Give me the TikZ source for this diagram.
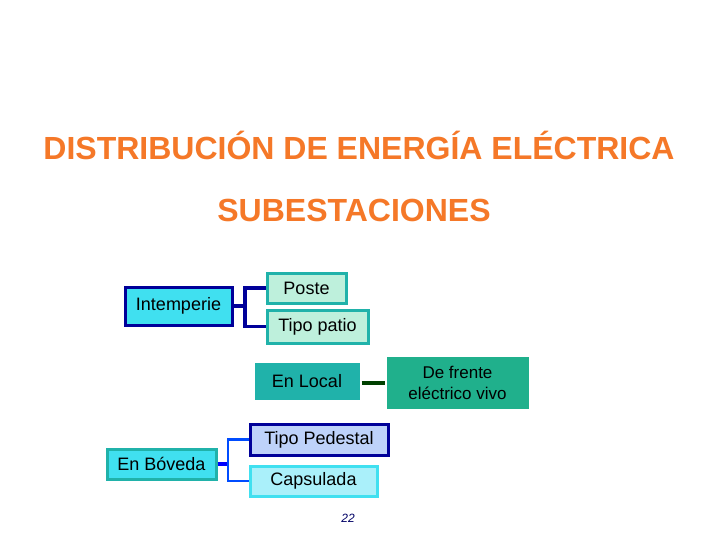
\documentclass[tikz,border=0pt]{standalone}
\usepackage{fontspec}
\setmainfont{Liberation Sans}
\definecolor{cy}{RGB}{64,224,240}
\definecolor{tl}{RGB}{32,178,170}
\definecolor{gt}{RGB}{32,176,140}
\definecolor{lg}{RGB}{190,240,220}
\definecolor{lb}{RGB}{190,210,250}
\definecolor{lc}{RGB}{170,240,250}
\definecolor{ttlc}{RGB}{245,120,40}
\begin{document}
\begin{tikzpicture}[x=1pt,y=-1pt,
 bx/.style={draw=#1,line width=3pt,inner sep=2pt,font=\fontsize{18}{21}\selectfont,align=center},
 ttl/.style={text=ttlc,font=\bfseries\fontsize{32}{36}\selectfont},
 br/.style={line width=3.5pt,draw=#1}]
\useasboundingbox (0,0) rectangle (720,540);
\fill[white] (0,0) rectangle (720,540);
\node[ttl] (t1) at (359,145) {DISTRIBUCIÓN DE ENERGÍA ELÉCTRICA};
\node[ttl] (t2) at (354,210) {SUBESTACIONES};
\node[bx=blue!60!black,fill=cy,minimum width=107pt,minimum height=38pt] (int) at (178.5,306) {Intemperie};
\node[bx=tl,fill=lg,minimum width=79pt,minimum height=30pt] (pos) at (306.5,288) {Poste};
\node[bx=tl,fill=lg,minimum width=101pt,minimum height=33pt] (pat) at (317.5,326.5) {Tipo patio};
\node[bx=tl,fill=tl,minimum width=102pt,minimum height=34pt] (loc) at (307,381) {En Local};
\node[bx=gt,fill=gt,minimum width=139pt,minimum height=49pt,font=\fontsize{17}{21}\selectfont] (fre) at (457.5,382.5) {De frente\\eléctrico vivo};
\node[bx=blue!60!black,fill=lb,minimum width=138pt,minimum height=31pt] (ped) at (319,439.5) {Tipo Pedestal};
\node[bx=cy,fill=lc,minimum width=127pt,minimum height=30pt] (cap) at (313.5,481) {Capsulada};
\node[bx=tl,fill=cy,minimum width=109pt,minimum height=30pt] (bov) at (161.5,464) {En Bóveda};
\coordinate (j1) at (245,306);
\draw[br=blue!60!black] (int.east) -- (j1);
\draw[br=blue!60!black] (pos.west) -| (j1) |- (pat.west);
\draw[line width=3.5pt,green!25!black] (loc.east) ++(2,2) -- ++(23,0);
\coordinate (j2) at (228,464);
\draw[br=blue] (bov.east) -- (j2);
\draw[br=blue!70!cyan,line width=2.5pt] (ped.west) -| (j2) |- (cap.west);
\node[font=\itshape\fontsize{12}{14}\selectfont,text=blue!40!black] (pg) at (348,518) {22};
\end{tikzpicture}
\end{document}
